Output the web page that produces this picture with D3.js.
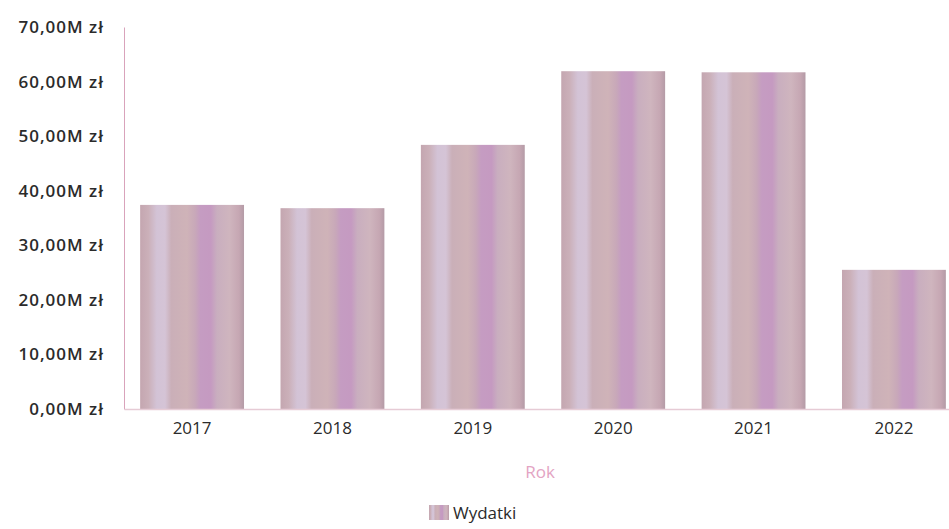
<!DOCTYPE html>
<html>
<meta charset="utf-8">
<head>
<style>
body {
    margin: 0;
    background: #fff;
    font-family: "Open Sans", Arial, sans-serif;
}
.tick text {
    fill: #2b2b2b;
}
</style>
<script src="https://d3js.org/d3.v7.min.js"></script>
</head>
<body>
<script>
// data
var years = ["2017", "2018", "2019", "2020", "2021", "2022"];
var wydatki = [37.4, 36.8, 48.4, 61.9, 61.7, 25.5]; // millions zl
var yTicks = [0, 10, 20, 30, 40, 50, 60, 70];
var seriesName = "Wydatki";
var xTitle = "Rok";

var width = 949, height = 529;
var font = "'Open Sans', Arial, sans-serif";

var svg = d3.select("body").append("svg")
    .attr("width", width)
    .attr("height", height)
    .attr("font-family", font);

// striped fill imitating the scanned bars
var defs = svg.append("defs");
var grad = defs.append("linearGradient")
    .attr("id", "barFill")
    .attr("x1", "0%").attr("x2", "100%")
    .attr("y1", "0%").attr("y2", "0%");
[
    [0, "#c4a6b0"], [0.08, "#cbb0b9"], [0.16, "#d3c3d6"], [0.24, "#d5c4d6"],
    [0.30, "#caafb8"], [0.45, "#cfb3b8"], [0.53, "#c8a8b9"], [0.58, "#c59cc2"],
    [0.68, "#c59ac1"], [0.74, "#c9aebf"], [0.86, "#cfb5be"], [0.95, "#c6a7b3"],
    [1, "#b49ba6"]
].forEach(function(s) {
    grad.append("stop").attr("offset", s[0]).attr("stop-color", s[1]);
});

var x = d3.scaleBand()
    .domain(years)
    .range([124, 962])
    .paddingInner(0.26)
    .paddingOuter(0.115);

var y = d3.scaleLinear()
    .domain([0, 70])
    .range([409, 27]);

// bars
svg.selectAll(".bar")
    .data(years)
  .enter().append("rect")
    .attr("class", "bar")
    .attr("x", function(d) { return x(d); })
    .attr("width", x.bandwidth())
    .attr("y", function(d, i) { return y(wydatki[i]); })
    .attr("height", function(d, i) { return y(0) - y(wydatki[i]); })
    .attr("fill", "url(#barFill)");

// y axis
var yAxis = d3.axisLeft(y)
    .tickValues(yTicks)
    .tickSize(0)
    .tickPadding(20)
    .tickFormat(function(d) { return d3.format(".2f")(d).replace(".", ",") + "M zł"; });

var gy = svg.append("g")
    .attr("transform", "translate(124,0)")
    .call(yAxis)
    .attr("font-family", font);
gy.select(".domain").attr("stroke", "#d9a3bb").attr("stroke-width", 1);
gy.selectAll("text")
    .style("font-size", "17px")
    .style("font-weight", "600")
    .style("letter-spacing", "1px");

// x axis
var xAxis = d3.axisBottom(x).tickSize(0).tickPadding(13);
var gx = svg.append("g")
    .attr("transform", "translate(0,409)")
    .call(xAxis)
    .attr("font-family", font);
gx.select(".domain").attr("stroke", "#e6cbd5").attr("stroke-width", 1.5);
gx.selectAll("text")
    .style("font-size", "17px");

// axis title
svg.append("text")
    .attr("x", 540)
    .attr("y", 478)
    .attr("text-anchor", "middle")
    .attr("fill", "#e3a4c3")
    .style("font-size", "17px")
    .text(xTitle);

// legend
svg.append("rect")
    .attr("x", 429)
    .attr("y", 505)
    .attr("width", 20)
    .attr("height", 15)
    .attr("fill", "url(#barFill)");
svg.append("text")
    .attr("x", 453)
    .attr("y", 519)
    .attr("fill", "#2b2b2b")
    .style("font-size", "17px")
    .text(seriesName);
</script>
</body>
</html>
